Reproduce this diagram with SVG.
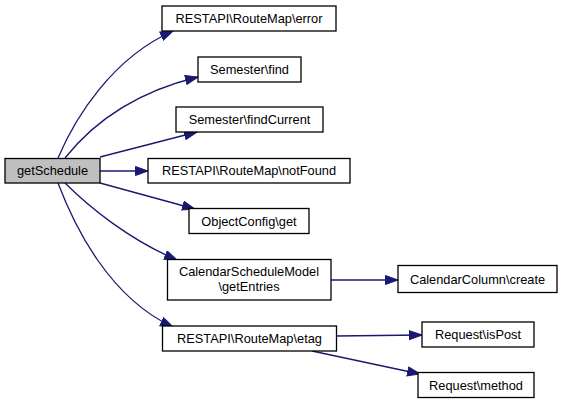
<svg xmlns="http://www.w3.org/2000/svg" width="563" height="404" viewBox="0 0 563 404">
<style>
.n rect{fill:#ffffff;stroke:#000000;stroke-width:1.3}
.n.root rect{fill:#bfbfbf}
.n text{font-family:"Liberation Sans",Arial,sans-serif;font-size:12.8px;fill:#000;text-anchor:middle}
.e path{fill:none;stroke:#191970;stroke-width:1.3;marker-end:url(#ah)}
</style>
<defs>
<marker id="ah" markerUnits="userSpaceOnUse" markerWidth="14" markerHeight="11" refX="13" refY="5" orient="auto">
<path d="M0.5,0.5 L13,5 L0.5,9.5 z" fill="#191970" stroke="#191970" stroke-width="1"/>
</marker>
</defs>
<rect width="563" height="404" fill="#ffffff"/>
<g id="edges" class="e">
<path d="M58,158 C75,118 112,58 173,31"/>
<path d="M65,158 C92,124 132,93 198,77"/>
<path d="M100,157 L197,132"/>
<path d="M100,171 L148,171"/>
<path d="M100,183 L195,209"/>
<path d="M65,183 C90,208 130,240 177,260"/>
<path d="M58,183 C75,228 110,298 173,327"/>
<path d="M331,280 L398,280"/>
<path d="M336,336 L422,335"/>
<path d="M312,351 L420,374"/>
</g>
<g id="getSchedule" class="n root"><rect x="5" y="158.5" width="95" height="24.5"/><text x="52.5" y="175">getSchedule</text></g>
<g id="error" class="n"><rect x="162" y="6" width="174" height="25"/><text x="249" y="23">RESTAPI\RouteMap\error</text></g>
<g id="find" class="n"><rect x="198" y="57" width="103" height="25"/><text x="249.5" y="74">Semester\find</text></g>
<g id="findCurrent" class="n"><rect x="176" y="107" width="147" height="25"/><text x="249.5" y="124">Semester\findCurrent</text></g>
<g id="notFound" class="n"><rect x="148" y="158.5" width="202" height="24.5"/><text x="249" y="175">RESTAPI\RouteMap\notFound</text></g>
<g id="objectConfigGet" class="n"><rect x="189" y="208.5" width="120" height="25"/><text x="249" y="225.5">ObjectConfig\get</text></g>
<g id="getEntries" class="n"><rect x="167.5" y="259.5" width="163.5" height="40.5"/><text x="249" y="276">CalendarScheduleModel</text><text x="249" y="291">\getEntries</text></g>
<g id="etag" class="n"><rect x="162.5" y="326" width="174" height="25"/><text x="249.5" y="343">RESTAPI\RouteMap\etag</text></g>
<g id="create" class="n"><rect x="398" y="265.5" width="159" height="27"/><text x="477.5" y="283.5">CalendarColumn\create</text></g>
<g id="isPost" class="n"><rect x="422" y="322" width="112" height="25"/><text x="478" y="339">Request\isPost</text></g>
<g id="method" class="n"><rect x="418" y="372.5" width="116" height="25"/><text x="476" y="389.5">Request\method</text></g>
</svg>
